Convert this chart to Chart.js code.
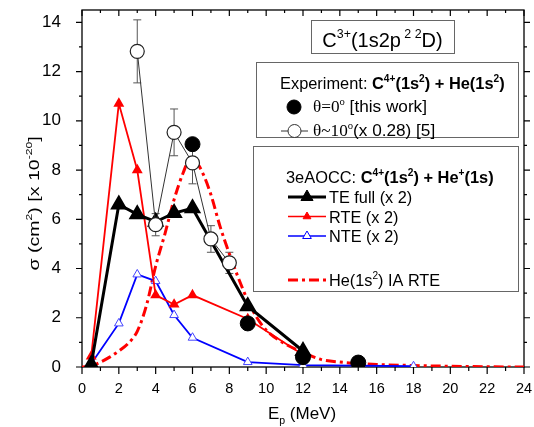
<!DOCTYPE html>
<html>
<head>
<meta charset="utf-8">
<script src="https://cdn.jsdelivr.net/npm/chart.js@4"></script>
<style>
  html, body { margin: 0; padding: 0; background: #fff; }
  #wrap { width: 534px; height: 427px; position: relative; }
</style>
</head>
<body>
<div id="wrap"><canvas id="chart"></canvas></div>
<script>
// --- data ---
const theoryE = [0.5, 2, 3, 4, 5, 6, 9, 12];
const teFull  = [0.1, 6.6, 6.2, 5.9, 6.25, 6.45, 2.47, 0.65];
const rte     = [0.43, 10.7, 8.0, 2.92, 2.54, 2.92, 1.95, 0.5];
const nteE    = [0.5, 2, 3, 4, 5, 6, 9, 12, 18];
const nte     = [0.13, 1.77, 3.76, 3.49, 2.11, 1.19, 0.2, 0.08, 0.03];

// He(1s2) IA RTE curve
const iaE = [0, 0.5, 1, 1.5, 2, 2.5, 3, 3.5, 4, 4.5, 5, 5.5, 5.8, 6.2, 6.6, 7, 7.5, 8, 8.5, 9, 9.5, 10, 11, 12, 13, 14, 16, 18, 20, 22, 24];
const ia  = [0, 0.05, 0.2, 0.4, 0.65, 0.95, 1.45, 2.5, 4.1, 5.4, 6.8, 7.9, 8.35, 8.3, 7.8, 7.0, 5.7, 4.6, 3.6, 2.7, 2.0, 1.5, 0.95, 0.6, 0.3, 0.2, 0.1, 0.06, 0.03, 0.01, 0];

// experiment
const exp0E  = [6, 9, 12, 15];
const exp0   = [9.05, 1.77, 0.4, 0.18];
const exp10E = [3, 4, 5, 6, 7, 8];
const exp10  = [12.82, 5.78, 9.53, 8.29, 5.2, 4.23];
const err10  = [1.28, 0.45, 0.95, 0.85, 0.54, 0.43];

const xTicks = [0, 2, 4, 6, 8, 10, 12, 14, 16, 18, 20, 22, 24];
const yTicks = [0, 2, 4, 6, 8, 10, 12, 14];

const pts = (xs, ys) => xs.map((x, i) => ({ x: x, y: ys[i] }));

const SANS = '"Liberation Sans", Arial, sans-serif';
const SERIF = '"Liberation Serif", "Times New Roman", serif';

// draw text made of parts: [text, flags] ; b=bold ^=sup _=sub s=serif
function rich(ctx, x, y, parts, size, dry) {
  let cx = x;
  parts.forEach(p => {
    const t = p[0], f = p[1] || '';
    const small = f.includes('^') || f.includes('_');
    const fs = small ? size * 0.62 : size;
    ctx.font = (f.includes('b') ? 'bold ' : '') + fs + 'px ' + (f.includes('s') ? SERIF : SANS);
    const dy = f.includes('^') ? -size * 0.42 : (f.includes('_') ? size * 0.3 : 0);
    if (!dry) ctx.fillText(t, cx, y + dy);
    cx += ctx.measureText(t).width;
  });
  return cx - x;
}

function box(ctx, l, t, r, b) {
  ctx.save();
  ctx.fillStyle = '#fff';
  ctx.fillRect(l, t, r - l, b - t);
  ctx.strokeStyle = '#666';
  ctx.lineWidth = 1;
  ctx.strokeRect(l + 0.5, t + 0.5, r - l, b - t);
  ctx.restore();
}

function sample(ctx, x1, x2, y, color, width, dash, style, radius, fill) {
  ctx.save();
  if (x2 > x1) {
    ctx.strokeStyle = color;
    ctx.lineWidth = width;
    ctx.setLineDash(dash || []);
    ctx.beginPath();
    ctx.moveTo(x1, y);
    ctx.lineTo(x2, y);
    ctx.stroke();
    ctx.setLineDash([]);
  }
  if (style) {
    ctx.fillStyle = fill;
    ctx.strokeStyle = color;
    ctx.lineWidth = 1;
    Chart.helpers.drawPoint(ctx, { pointStyle: style, radius: radius, rotation: 0, borderWidth: 1 }, (x1 + x2) / 2, y);
  }
  ctx.restore();
}

const decor = {
  id: 'decor',
  beforeDatasetsDraw(chart) {
    const ctx = chart.ctx;
    const a = chart.chartArea;
    const xs = chart.scales.x, ys = chart.scales.y;
    ctx.save();
    // frame
    ctx.strokeStyle = '#000';
    ctx.lineWidth = 1.3;
    ctx.strokeRect(a.left, a.top, a.right - a.left, a.bottom - a.top);
    ctx.lineWidth = 1.2;
    ctx.beginPath();
    for (let v = 0; v <= 24; v++) {
      const px = xs.getPixelForValue(v);
      const major = v % 2 === 0;
      ctx.moveTo(px, a.bottom); ctx.lineTo(px, a.bottom + (major ? 7 : 4));
      ctx.moveTo(px, a.top); ctx.lineTo(px, a.top + (major ? 6 : 3));
    }
    for (let v = 0; v <= 14; v++) {
      const py = ys.getPixelForValue(v);
      const major = v % 2 === 0;
      ctx.moveTo(a.left, py); ctx.lineTo(a.left - (major ? 6 : 3), py);
      ctx.moveTo(a.right, py); ctx.lineTo(a.right + (major ? 6 : 3), py);
    }
    ctx.stroke();

    // error bars on the theta~10 data
    ctx.strokeStyle = '#555';
    ctx.lineWidth = 1;
    ctx.beginPath();
    exp10E.forEach((e, i) => {
      const px = xs.getPixelForValue(e);
      const top = ys.getPixelForValue(exp10[i] + err10[i]);
      const bot = ys.getPixelForValue(exp10[i] - err10[i]);
      ctx.moveTo(px, top); ctx.lineTo(px, bot);
      ctx.moveTo(px - 4, top); ctx.lineTo(px + 4, top);
      ctx.moveTo(px - 4, bot); ctx.lineTo(px + 4, bot);
    });
    ctx.stroke();

    // axis titles
    ctx.fillStyle = '#000';
    ctx.textBaseline = 'alphabetic';
    const xt = [['E'], ['p', '_'], [' (MeV)']];
    const w = rich(ctx, 0, 0, xt, 17, true);
    rich(ctx, 302 - w / 2, 419, xt, 17);
    // y title is drawn a bit stretched along its length, like the original
    ctx.translate(38.5, 203.5);
    ctx.rotate(-Math.PI / 2);
    ctx.scale(1.35, 1);
    const yt = [['\u03c3 (cm'], ['2', '^'], [') [x 10'], ['-20', '^'], [']']];
    const w2 = rich(ctx, 0, 0, yt, 14.5, true);
    rich(ctx, -w2 / 2, 0, yt, 14.5);
    ctx.restore();
  },
  afterDatasetsDraw(chart) {
    const ctx = chart.ctx;
    ctx.save();
    ctx.fillStyle = '#000';
    ctx.textBaseline = 'alphabetic';

    // title box
    box(ctx, 311, 20, 454, 53);
    const tt = [['C'], ['3+', '^'], ['(1s2p'], [' 2 2', '^'], ['D)']];
    const tw = rich(ctx, 0, 0, tt, 20, true);
    ctx.fillStyle = '#000';
    rich(ctx, 382.5 - tw / 2, 46.5, tt, 20);

    // experiment box
    box(ctx, 256, 62, 518, 137);
    ctx.fillStyle = '#000';
    rich(ctx, 280, 88.5, [['Experiment: '], ['C', 'b'], ['4+', 'b^'], ['(1s', 'b'], ['2', 'b^'], [') + He(1s', 'b'], ['2', 'b^'], [')', 'b']], 16.4);
    sample(ctx, 294, 294, 107, '#000', 0, null, 'circle', 7, '#000');
    ctx.fillStyle = '#000';
    rich(ctx, 313, 112, [['\u03b8=0', 's'], ['o', 's^'], [' [this work]']], 17.2);
    sample(ctx, 281, 308, 131, '#333', 1, null, 'circle', 6.5, '#fff');
    ctx.fillStyle = '#000';
    rich(ctx, 313, 136, [['\u03b8~10', 's'], ['o', 's^'], ['(x 0.28) [5]']], 17.2);

    // theory box
    box(ctx, 253, 146, 518, 291);
    ctx.fillStyle = '#000';
    rich(ctx, 286, 182.5, [['3eAOCC: '], ['C', 'b'], ['4+', 'b^'], ['(1s', 'b'], ['2', 'b^'], [') + He', 'b'], ['+', 'b^'], ['(1s)', 'b']], 16.4);
    sample(ctx, 288, 326, 197, '#000', 3, null, 'triangle', 7, '#000');
    ctx.fillStyle = '#000';
    rich(ctx, 329, 203, [['TE full (x 2)']], 16.3);
    sample(ctx, 288, 326, 216.5, '#ff0000', 1.5, null, 'triangle', 4.5, '#ff0000');
    ctx.fillStyle = '#000';
    rich(ctx, 329, 222.5, [['RTE (x 2)']], 16.3);
    sample(ctx, 288, 326, 236, '#0000ff', 1.5, null, 'triangle', 5, '#fff');
    ctx.fillStyle = '#000';
    rich(ctx, 329, 242, [['NTE (x 2)']], 16.3);
    sample(ctx, 288, 326, 280, '#ff0000', 3, [10, 4, 3, 4], null);
    ctx.fillStyle = '#000';
    rich(ctx, 329, 285.5, [['He(1s'], ['2', '^'], [') IA RTE']], 16.3);
    ctx.restore();
  }
};

new Chart(document.getElementById('chart'), {
  type: 'scatter',
  data: {
    datasets: [
      {
        label: 'theta=0 [this work]',
        data: pts(exp0E, exp0),
        showLine: false,
        pointStyle: 'circle',
        pointRadius: 7.5,
        backgroundColor: '#000',
        borderColor: '#000',
        order: 0
      },
      {
        label: 'theta~10 (x 0.28) [5]',
        data: pts(exp10E, exp10),
        showLine: true,
        borderColor: '#333',
        borderWidth: 1,
        pointStyle: 'circle',
        pointRadius: 7,
        pointBackgroundColor: '#fff',
        pointBorderColor: '#222',
        pointBorderWidth: 1.2,
        order: 1
      },
      {
        label: 'TE full (x 2)',
        data: pts(theoryE, teFull),
        showLine: true,
        borderColor: '#000',
        borderWidth: 3,
        pointStyle: 'triangle',
        pointRadius: 7,
        pointBackgroundColor: '#000',
        pointBorderColor: '#000',
        order: 2
      },
      {
        label: 'RTE (x 2)',
        data: pts(theoryE, rte),
        showLine: true,
        borderColor: '#ff0000',
        borderWidth: 1.8,
        pointStyle: 'triangle',
        pointRadius: 4.5,
        pointBackgroundColor: '#ff0000',
        pointBorderColor: '#ff0000',
        order: 3
      },
      {
        label: 'NTE (x 2)',
        data: pts(nteE, nte),
        showLine: true,
        borderColor: '#0000ff',
        borderWidth: 1.8,
        pointStyle: 'triangle',
        pointRadius: 5,
        pointBackgroundColor: '#fff',
        pointBorderColor: '#4444ff',
        pointBorderWidth: 1,
        order: 4
      },
      {
        label: 'He(1s2) IA RTE',
        data: pts(iaE, ia),
        showLine: true,
        borderColor: '#ff0000',
        borderWidth: 3,
        borderDash: [10, 4, 3, 4],
        cubicInterpolationMode: 'monotone',
        pointRadius: 0,
        order: 5
      }
    ]
  },
  options: {
    responsive: true,
    maintainAspectRatio: false,
    animation: false,
    layout: { padding: { left: 0, right: 10, top: 7, bottom: 0 } },
    plugins: { legend: { display: false }, tooltip: { enabled: false } },
    scales: {
      x: {
        type: 'linear',
        min: 0, max: 24,
        afterBuildTicks: s => { s.ticks = xTicks.map(v => ({ value: v })); },
        afterFit: s => { s.height = 60; s.paddingLeft = 0; s.paddingRight = 0; },
        grid: { display: false },
        border: { display: false },
        ticks: { color: '#000', padding: 5, maxRotation: 0, font: { family: SANS, size: 14.5 } }
      },
      y: {
        min: 0, max: 14.5,
        afterBuildTicks: s => { s.ticks = yTicks.map(v => ({ value: v })); },
        afterFit: s => { s.width = 82; s.paddingTop = 0; s.paddingBottom = 0; },
        grid: { display: false },
        border: { display: false },
        ticks: { color: '#000', padding: 13, font: { family: SANS, size: 17 } }
      }
    }
  },
  plugins: [decor]
});
</script>
</body>
</html>
